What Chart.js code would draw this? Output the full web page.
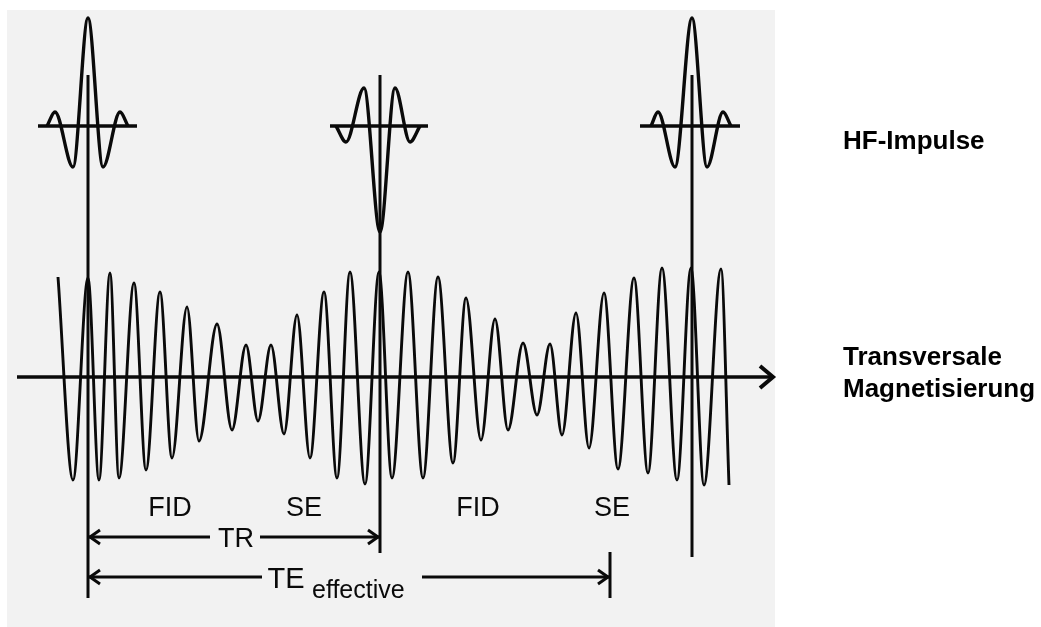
<!DOCTYPE html>
<html>
<head>
<meta charset="utf-8">
<script src="https://cdn.jsdelivr.net/npm/chart.js@4.4.0/dist/chart.umd.min.js"></script>
<style>
body { margin: 0; background: #fff; }
#wrap { position: relative; width: 1041px; height: 627px; }
.side { position: absolute; left: 843px; font: bold 26px "Liberation Sans", Arial, sans-serif; line-height: 32px; color: #000; }
</style>
</head>
<body>
<div id="wrap">
  <canvas id="chart" width="1041" height="627"></canvas>
  <div class="side" style="top:124px">HF-Impulse</div>
  <div class="side" style="top:340px">Transversale<br>Magnetisierung</div>
</div>
<script>
// transverse magnetisation: extrema (y grows downwards)
const signalX = [58, 73, 88, 99, 110, 119, 134, 146, 160, 172, 187, 199, 217, 232, 246, 258, 271, 284, 297, 310, 324, 337, 350, 365,
                 379, 392, 408, 423, 438, 453, 466, 481, 495, 508, 523, 537, 550, 562, 576, 589, 604, 618, 634, 648, 662, 677, 691, 704, 721, 729]
const signalY = [277, 480, 278, 480, 273, 478, 283, 470, 292, 458, 307, 441, 324, 430, 345, 421, 345, 434, 315, 458, 292, 478, 272, 484,
                 272, 478, 272, 478, 277, 463, 298, 440, 319, 430, 343, 415, 344, 435, 313, 448, 293, 469, 278, 473, 268, 480, 268, 485, 269, 485]

// time axis
const axisY = 377
const axisFrom = 17
const axisTo = 775

// HF pulses
const pulseX = [88, 380, 692]
const pulseTop = 75
const pulseBottom = [598, 553, 557]
const hfBaseY = 126
const hfBaseFrom = [38, 330, 640]
const hfBaseTo = [137, 428, 740]
const hf1X = [47, 55, 73, 88, 103, 120, 128]
const hf1Y = [126, 112, 167, 18, 167, 112, 126]
const hf2X = [336, 346, 364, 380, 395, 410, 420]
const hf2Y = [126, 142, 88, 232, 88, 142, 126]
const hf3X = [651, 658, 675, 692, 707, 723, 731]
const hf3Y = [126, 112, 167, 18, 167, 112, 126]

// timing arrows
const arrowY = [537, 577]
const arrowFrom = [88, 88]
const arrowTo = [380, 610]
const arrowGapFrom = [210, 262]
const arrowGapTo = [260, 422]
const teTickX = 610
const teTickFrom = 552
const teTickTo = 598

// labels
const segLabels = ['FID', 'SE', 'FID', 'SE']
const segLabelX = [170, 304, 478, 612]
const segLabelY = 516

// scanned figure area
const scanBox = [7, 775, 10, 627]

const line = (xs, ys, width) => {
    return {
        data: xs.map((x, i) => ({ x: x, y: ys[i] })),
        borderColor: '#0a0a0a',
        borderWidth: width,
        pointRadius: 0,
        fill: false,
        cubicInterpolationMode: 'monotone',
        clip: false
    }
}

const datasets = []
datasets.push(line(signalX, signalY, 2.9))
datasets.push(line([axisFrom, axisTo - 3], [axisY, axisY], 3.5))
pulseX.forEach((x, i) => {
    datasets.push(line([x, x], [pulseTop, pulseBottom[i]], 3))
    datasets.push(line([hfBaseFrom[i], hfBaseTo[i]], [hfBaseY, hfBaseY], 3.5))
})
datasets.push(line(hf1X, hf1Y, 3.4))
datasets.push(line(hf2X, hf2Y, 3.4))
datasets.push(line(hf3X, hf3Y, 3.4))
datasets.push(line([teTickX, teTickX], [teTickFrom, teTickTo], 3))
arrowY.forEach((y, i) => {
    datasets.push(line([arrowFrom[i], arrowGapFrom[i]], [y, y], 2.8))
    datasets.push(line([arrowGapTo[i], arrowTo[i]], [y, y], 2.8))
})

const head = (ctx, px, py, dir, len, half, width) => {
    ctx.save()
    ctx.strokeStyle = '#0a0a0a'
    ctx.lineWidth = width
    ctx.lineJoin = 'miter'
    ctx.beginPath()
    ctx.moveTo(px - dir * len, py - half)
    ctx.lineTo(px, py)
    ctx.lineTo(px - dir * len, py + half)
    ctx.stroke()
    ctx.restore()
}

const decor = {
    id: 'decor',
    beforeDraw: (chart) => {
        const { ctx, scales } = chart
        const x0 = scales.x.getPixelForValue(scanBox[0])
        const x1 = scales.x.getPixelForValue(scanBox[1])
        const y0 = scales.y.getPixelForValue(scanBox[2])
        const y1 = scales.y.getPixelForValue(scanBox[3])
        ctx.save()
        ctx.fillStyle = '#f2f2f2'
        ctx.fillRect(x0, y0, x1 - x0, y1 - y0)
        ctx.restore()
    },
    afterDatasetsDraw: (chart) => {
        const { ctx, scales } = chart
        const X = v => scales.x.getPixelForValue(v)
        const Y = v => scales.y.getPixelForValue(v)

        head(ctx, X(axisTo) - 2, Y(axisY), 1, 13, 11, 4)
        arrowY.forEach((y, i) => {
            head(ctx, X(arrowFrom[i]) + 2, Y(y), -1, 10, 7, 3)
            head(ctx, X(arrowTo[i]) - 2, Y(y), 1, 10, 7, 3)
        })

        ctx.save()
        ctx.fillStyle = '#0a0a0a'
        ctx.textAlign = 'center'
        ctx.textBaseline = 'alphabetic'
        ctx.font = '27px "Liberation Sans", Arial, sans-serif'
        segLabels.forEach((t, i) => ctx.fillText(t, X(segLabelX[i]), Y(segLabelY)))
        ctx.fillText('TR', X(236), Y(547))
        ctx.font = '29px "Liberation Sans", Arial, sans-serif'
        ctx.fillText('TE', X(286), Y(588))
        ctx.textAlign = 'left'
        ctx.font = '25px "Liberation Sans", Arial, sans-serif'
        ctx.fillText('effective', X(312), Y(598))
        ctx.restore()
    }
}

new Chart(document.getElementById('chart'), {
    type: 'line',
    data: { datasets: datasets },
    options: {
        responsive: false,
        animation: false,
        layout: { padding: 0 },
        scales: {
            x: { type: 'linear', min: 0, max: 1041, display: false },
            y: { type: 'linear', min: 0, max: 627, reverse: true, display: false }
        },
        plugins: {
            legend: { display: false },
            tooltip: { enabled: false }
        }
    },
    plugins: [decor]
})
</script>
</body>
</html>
